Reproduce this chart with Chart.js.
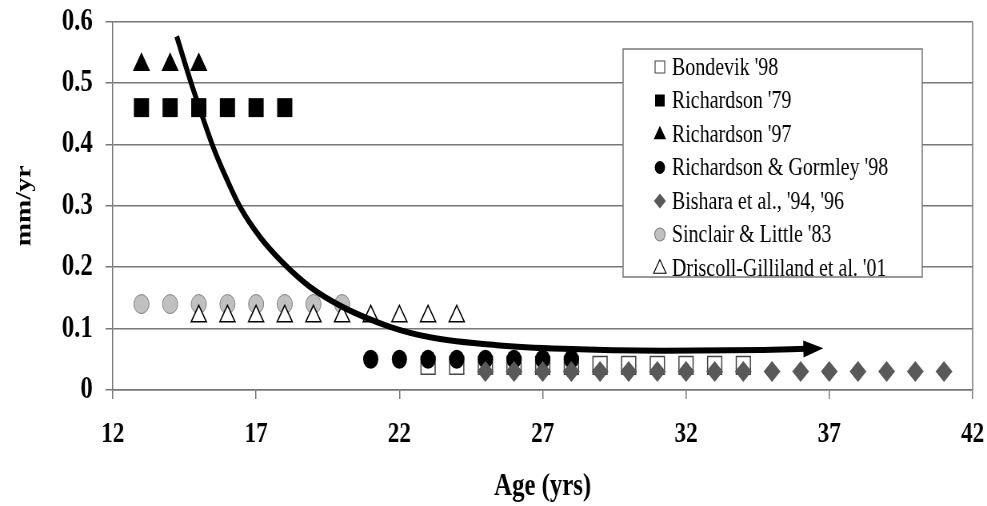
<!DOCTYPE html>
<html><head><meta charset="utf-8">
<script src="https://cdn.jsdelivr.net/npm/chart.js@4"></script>
<style>
html,body{margin:0;padding:0;background:#fff;overflow:hidden}
#c{display:block;width:987px !important;height:506px !important}
</style>
</head><body>
<canvas id="c" width="1234" height="506" style="width:987px;height:506px"></canvas>
<script>
// ---- data ----
const seriesNames = ["Bondevik '98", "Richardson '79", "Richardson '97", "Richardson & Gormley '98", "Bishara et al., '94, '96", "Sinclair & Little '83", "Driscoll-Gilliland et al. '01"];
const bondevikAge   = [23, 24, 25, 26, 27, 28, 29, 30, 31, 32, 33, 34];
const bondevikRate  = [0.04, 0.04, 0.04, 0.04, 0.04, 0.04, 0.04, 0.04, 0.04, 0.04, 0.04, 0.04];
const richardson79Age  = [13, 14, 15, 16, 17, 18];
const richardson79Rate = [0.46, 0.46, 0.46, 0.46, 0.46, 0.46];
const richardson97Age  = [13, 14, 15];
const richardson97Rate = [0.53, 0.53, 0.53];
const gormleyAge  = [21, 22, 23, 24, 25, 26, 27, 28];
const gormleyRate = [0.05, 0.05, 0.05, 0.05, 0.05, 0.05, 0.05, 0.05];
const bisharaAge  = [25, 26, 27, 28, 29, 30, 31, 32, 33, 34, 35, 36, 37, 38, 39, 40, 41];
const bisharaRate = [0.03, 0.03, 0.03, 0.03, 0.03, 0.03, 0.03, 0.03, 0.03, 0.03, 0.03, 0.03, 0.03, 0.03, 0.03, 0.03, 0.03];
const sinclairAge  = [13, 14, 15, 16, 17, 18, 19, 20];
const sinclairRate = [0.14, 0.14, 0.14, 0.14, 0.14, 0.14, 0.14, 0.14];
const driscollAge  = [15, 16, 17, 18, 19, 20, 21, 22, 23, 24];
const driscollRate = [0.12, 0.12, 0.12, 0.12, 0.12, 0.12, 0.12, 0.12, 0.12, 0.12];
// hand-drawn trend arrow
const trendAge  = [14.23, 14.70, 15.05, 15.50, 15.99, 16.44, 17.14, 17.94, 18.88, 20.03, 21.67, 23.07, 25.40, 27.71, 31.20, 34.68, 36.15];
const trendRate = [0.576, 0.505, 0.456, 0.396, 0.342, 0.298, 0.249, 0.207, 0.168, 0.135, 0.103, 0.086, 0.073, 0.067, 0.064, 0.065, 0.067];
const xTickValues = [12, 17, 22, 27, 32, 37, 42];
const yTickValues = [0, 0.1, 0.2, 0.3, 0.4, 0.5, 0.6];
const yTickLabels = ['0', '0.1', '0.2', '0.3', '0.4', '0.5', '0.6'];
const xTitle = 'Age (yrs)';
const yTitle = 'mm/yr';

function pts(xs, ys) { return xs.map((x, i) => ({x: x, y: ys[i]})); }

const SERIF = "'Liberation Serif', 'Times New Roman', serif";
const styles = [
  {style: 'rect',     radius: 12.5, bg: '#ffffff', border: '#444444', bw: 1.5, lr: 8.5},
  {style: 'rect',     radius: 13.4, bg: '#000000', border: '#000000', bw: 0,   lr: 8.5},
  {style: 'triangle', radius: 12.5, bg: '#000000', border: '#000000', bw: 0,   lr: 9},
  {style: 'circle',   radius: 9.5,  bg: '#000000', border: '#000000', bw: 0,   lr: 6.5},
  {style: 'rectRot',  radius: 10.5, bg: '#595959', border: '#595959', bw: 0,   lr: 7.5},
  {style: 'circle',   radius: 9.5,  bg: '#c0c0c0', border: '#808080', bw: 1,   lr: 6.5},
  {style: 'triangle', radius: 11,   bg: '#ffffff', border: '#000000', bw: 1.5, lr: 9}
];
const seriesData = [
  pts(bondevikAge, bondevikRate),
  pts(richardson79Age, richardson79Rate),
  pts(richardson97Age, richardson97Rate),
  pts(gormleyAge, gormleyRate),
  pts(bisharaAge, bisharaRate),
  pts(sinclairAge, sinclairRate),
  pts(driscollAge, driscollRate)
];

const datasets = seriesNames.map((name, i) => ({
  label: name,
  data: seriesData[i],
  showLine: false,
  pointStyle: styles[i].style,
  pointRadius: styles[i].radius,
  pointHoverRadius: styles[i].radius,
  backgroundColor: styles[i].bg,
  borderColor: styles[i].border,
  pointBorderWidth: styles[i].bw,
  order: seriesNames.length - i,
  clip: false
}));
datasets.push({
  label: 'trend',
  data: pts(trendAge, trendRate),
  showLine: true,
  pointRadius: 0,
  pointHoverRadius: 0,
  borderColor: '#000000',
  backgroundColor: '#000000',
  borderWidth: 6,
  cubicInterpolationMode: 'monotone',
  order: 0,
  clip: false
});

function drawMarker(ctx, style, x, y, r, bg, border, bw) {
  ctx.save();
  ctx.beginPath();
  if (style === 'circle') {
    ctx.arc(x, y, r, 0, Math.PI * 2);
  } else if (style === 'rect') {
    const s = r * Math.SQRT1_2;
    ctx.rect(x - s, y - s, 2 * s, 2 * s);
  } else if (style === 'rectRot') {
    ctx.moveTo(x - r, y); ctx.lineTo(x, y - r); ctx.lineTo(x + r, y); ctx.lineTo(x, y + r);
  } else if (style === 'triangle') {
    const h = r * 1.5, w = r * Math.sqrt(3) / 2;
    ctx.moveTo(x, y - h / 2 - 1.5); ctx.lineTo(x + w, y + h / 2 - 1.5); ctx.lineTo(x - w, y + h / 2 - 1.5);
  }
  ctx.closePath();
  ctx.fillStyle = bg; ctx.fill();
  if (bw > 0) { ctx.lineWidth = bw; ctx.strokeStyle = border; ctx.stroke(); }
  ctx.restore();
}

const framePlugin = {
  id: 'frame',
  beforeDatasetsDraw(chart) {
    const {ctx, chartArea: a} = chart;
    ctx.save();
    ctx.strokeStyle = '#777777';
    ctx.lineWidth = 1.5;
    ctx.beginPath();
    ctx.moveTo(a.right, a.top); ctx.lineTo(a.right, a.bottom);
    ctx.stroke();
    ctx.restore();
  },
  afterDatasetsDraw(chart) {
    const ctx = chart.ctx;
    const xs = chart.scales.x, ys = chart.scales.y;
    const n = trendAge.length;
    const bx = xs.getPixelForValue(trendAge[n - 1]), by = ys.getPixelForValue(trendRate[n - 1]);
    const px = xs.getPixelForValue(trendAge[n - 2]), py = ys.getPixelForValue(trendRate[n - 2]);
    const ang = Math.atan2(by - py, bx - px);
    const len = 23, half = 8.5;
    const ux = Math.cos(ang), uy = Math.sin(ang);
    ctx.save();
    ctx.fillStyle = '#000';
    ctx.beginPath();
    ctx.moveTo(bx + ux * len, by + uy * len);
    ctx.lineTo(bx - uy * half - ux * 2, by + ux * half - uy * 2);
    ctx.lineTo(bx + uy * half - ux * 2, by - ux * half - uy * 2);
    ctx.closePath();
    ctx.fill();
    ctx.restore();

    // legend box
    const L = 779, T = 49, R = 1153, B = 277;
    ctx.save();
    ctx.fillStyle = '#ffffff';
    ctx.fillRect(L, T, R - L, B - T);
    ctx.strokeStyle = '#777777';
    ctx.lineWidth = 1.5;
    ctx.strokeRect(L, T, R - L, B - T);
    ctx.font = '25px ' + SERIF;
    ctx.textBaseline = 'middle';
    ctx.textAlign = 'left';
    seriesNames.forEach((name, i) => {
      const y = 67 + i * 33.5;
      const s = styles[i];
      drawMarker(ctx, s.style, 825, y, s.lr, s.bg, s.border, s.bw > 0 ? 1.2 : 0);
      ctx.fillStyle = '#000';
      ctx.fillText(name, 840, y + 1);
    });
    ctx.restore();
  }
};

new Chart(document.getElementById('c'), {
  type: 'scatter',
  data: {datasets: datasets},
  options: {
    responsive: false,
    devicePixelRatio: 1,
    animation: false,
    layout: {padding: {top: 21.7, right: 18, bottom: 0, left: 0}},
    plugins: {legend: {display: false}, tooltip: {enabled: false}},
    scales: {
      x: {
        type: 'linear',
        min: 12, max: 42,
        afterBuildTicks: (s) => { s.ticks = xTickValues.map(v => ({value: v})); },
        afterFit: (s) => { s.height = 116; s.paddingLeft = 0; s.paddingRight = 0; },
        ticks: {
          color: '#000', padding: 18.6,
          font: {family: SERIF, size: 29, weight: 'bold'},
          maxRotation: 0, autoSkip: false
        },
        grid: {drawOnChartArea: false, drawTicks: true, tickLength: 9, color: '#777777', lineWidth: 1.5},
        border: {display: true, color: '#777777', width: 1.5},
        title: {display: true, text: xTitle, color: '#000',
          font: {family: SERIF, size: 31, weight: 'bold'}, padding: {top: 0, bottom: 0}}
      },
      y: {
        type: 'linear',
        min: 0, max: 0.6,
        afterBuildTicks: (s) => { s.ticks = yTickValues.map(v => ({value: v})); },
        afterFit: (s) => { s.width = 141; s.paddingTop = 0; s.paddingBottom = 0; },
        ticks: {
          color: '#000', padding: 16,
          font: {family: SERIF, size: 31, weight: 'bold'},
          callback: (v, i) => yTickLabels[i]
        },
        grid: {drawOnChartArea: true, drawTicks: true, tickLength: 9, color: '#777777', lineWidth: 1.5},
        border: {display: true, color: '#777777', width: 1.5},
        title: {display: true, text: yTitle, color: '#000',
          font: {family: SERIF, size: 28, weight: 'bold'}, padding: {top: 14, bottom: 0}}
      }
    }
  },
  plugins: [framePlugin]
});
</script>
</body></html>
